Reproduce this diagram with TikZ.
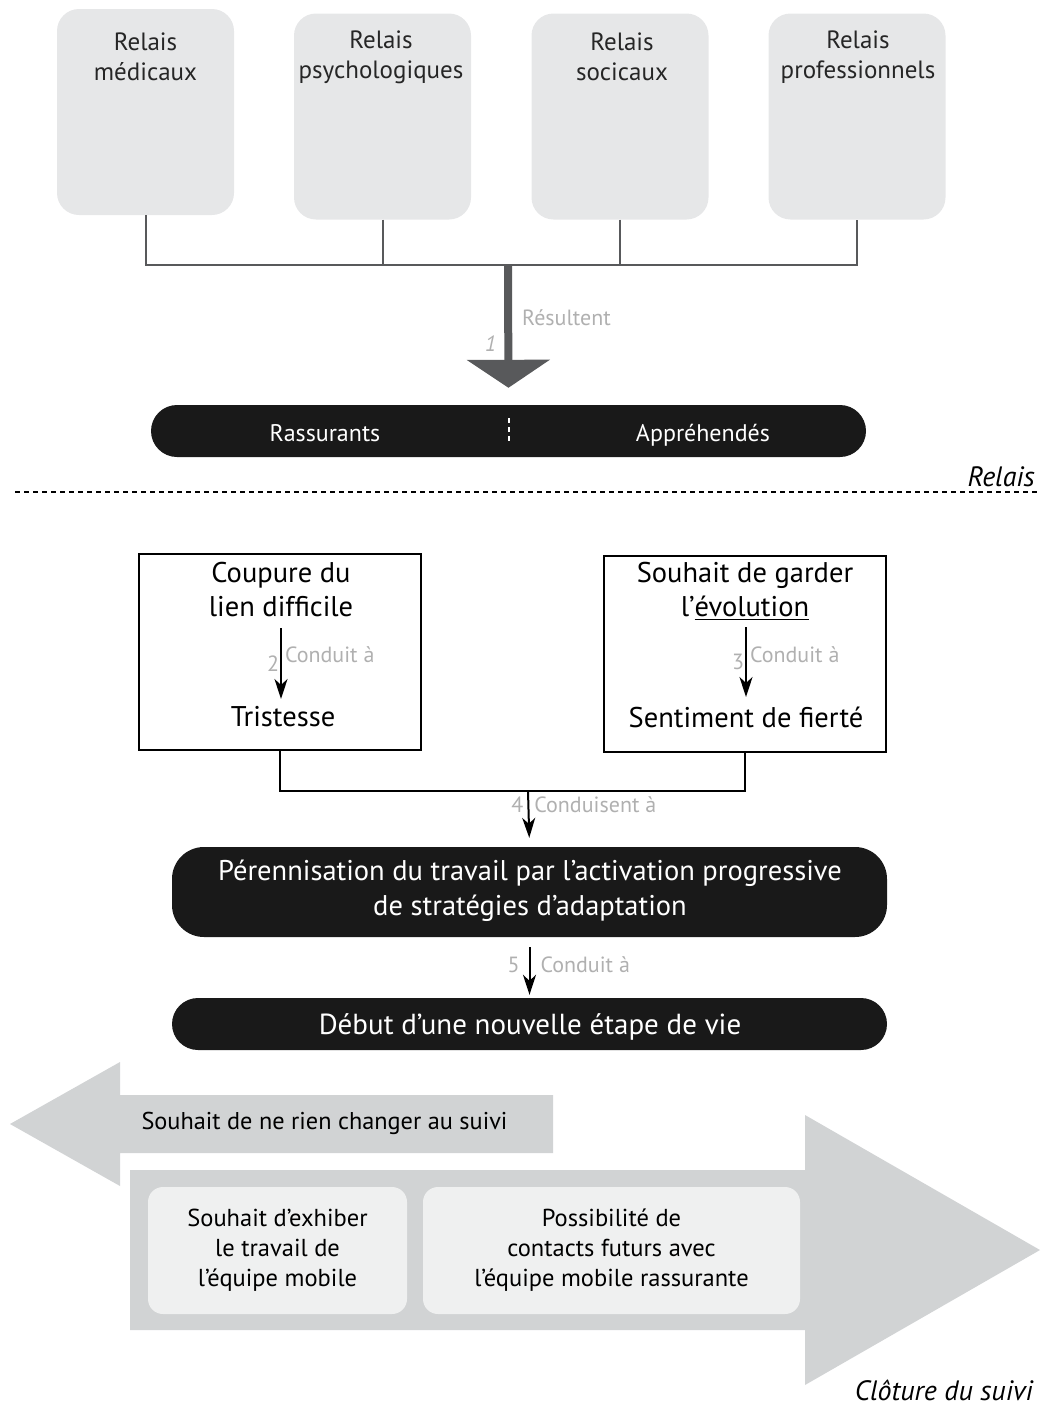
\documentclass[tikz,border=0pt]{standalone}
\usepackage{fontspec}
\setmainfont{PT Sans}
\usepackage{tikz}
\usetikzlibrary{arrows.meta, positioning}

\definecolor{relaygray}{HTML}{E6E7E8}
\definecolor{linkgray}{HTML}{58595B}
\definecolor{notegray}{HTML}{B0B0B0}
\definecolor{bandgray}{HTML}{D1D3D4}
\definecolor{cellgray}{HTML}{EFF0F0}

\newcommand{\fs}[2]{\fontsize{#1}{#2}\selectfont}

\begin{document}
\begin{tikzpicture}[
    x=1pt, y=-1pt,
    relay/.style = {rectangle, rounded corners=22pt, fill=relaygray,
                    minimum width=177pt, minimum height=206pt},
    relaytext/.style = {align=center, font=\fs{25}{30}, text=black!85},
    bar/.style = {rectangle, rounded corners=26pt, fill=black!90,
                  minimum width=715pt, minimum height=52pt},
    bartext/.style = {align=center, text=white},
    cause/.style = {rectangle, draw=black, line width=2pt,
                    minimum width=282pt, minimum height=196pt},
    causetext/.style = {align=center, font=\fs{28.5}{34}},
    note/.style = {text=notegray, font=\fs{22}{24}, inner sep=2pt},
    cell/.style = {rectangle, rounded corners=15pt, fill=cellgray,
                   minimum height=127pt, align=center, font=\fs{24.5}{30}},
    section/.style = {font=\fs{28}{30}\itshape, inner sep=0pt},
    link/.style = {draw=linkgray, line width=2pt},
    arrow/.style = {-{Stealth[length=20pt, width=13pt, inset=6pt]}, line width=2pt}
]
\useasboundingbox (0,0) rectangle (1041,1408);

% Relais
\node[relay] (med) at (145.5,112) {};
\node[relay] (psy) at (382.5,116.5) {};
\node[relay] (soc) at (620,116.5) {};
\node[relay] (pro) at (857,116.5) {};
\node[relaytext] at (145.5,57) {Relais\\médicaux};
\node[relaytext] at (381,57) {Relais\\psychologiques};
\node[relaytext] at (622,57) {Relais\\socicaux};
\node[relaytext] at (858,57) {Relais\\professionnels};

% Bar Rassurants / Appréhendés
\node[bar] (relbar) at (508.5,431) {};
\node[bartext, font=\fs{24}{26}, anchor=base] at (325,441) {Rassurants};
\node[bartext, font=\fs{24}{26}, anchor=base] at (703,441) {Appréhendés};
\draw[white, line width=2.5pt, dash pattern=on 5pt off 4pt] (509,418) -- (509,442);

% Links
\coordinate (join) at (508,265);
\draw[link] (med.south) |- (join) -| (pro.south);
\draw[link] (psy.south) -- (psy.south |- join);
\draw[link] (soc.south) -- (soc.south |- join);
\draw[linkgray, line width=8pt, -{Triangle[length=28pt, width=82pt]},
      shorten >=17pt] (join) -- (relbar.north)
      node[pos=0.38, right=8pt, note] {Résultent}
      node[pos=0.56, left=6pt, note, font=\fs{22}{24}\itshape] {1};

% Separator
\draw[line width=1.5pt, dash pattern=on 5pt off 4pt] (15,492) -- (1037,492);
\node[section, anchor=south east] at (1035,487) {Relais};

% Two causes
\node[cause] (coup) at (280,652) {};
\node[cause] (souh) at (745,653.5) {};
\node[causetext] (coupA) at (281,590) {Coupure du\\lien difficile};
\node[causetext] (trist) at (283,717) {Tristesse};
\node[causetext] (souhA) at (745,591) {Souhait de garder\\l’\underline{évolution}};
\node[causetext] (fier) at (746,717) {Sentiment de fierté};
\draw[arrow] (281,628) -- (281,699)
    node[pos=0.38, right=1pt, note] {Conduit à}
    node[pos=0.5, left=-1pt, note] {2};
\draw[arrow] (746,627) -- (746,697)
    node[pos=0.4, right=1pt, note] {Conduit à}
    node[pos=0.5, left=-1pt, note] {3};

% Merge
\coordinate (merge) at (528,791);
\draw[line width=2pt] (coup.south) |- (merge) -| (souh.south);
\node[bar, rounded corners=32pt, minimum height=90pt] (perenne) at (529.5,892) {};
\node[bartext, font=\fs{28.5}{35}] at (530,891) {Pérennisation du travail par l’activation progressive\\de stratégies d’adaptation};
\draw[arrow, shorten >=9pt] (merge) -- (perenne.north)
    node[pos=0.25, right=3pt, note] {Conduisent à}
    node[pos=0.25, left=2pt, note] {4};

\node[bar] (debut) at (529.5,1024) {};
\node[bartext, font=\fs{29}{30}, anchor=base] at (530,1034) {Début d’une nouvelle étape de vie};
\draw[arrow, shorten <=10pt, shorten >=3pt] (perenne.south) -- (debut.north)
    node[pos=0.45, right=8pt, note] {Conduit à}
    node[pos=0.45, left=7pt, note] {5};

% Arrows of the follow-up
\fill[bandgray] (553,1095) -- (120,1095) -- (120,1062) -- (10,1124)
    -- (120,1186) -- (120,1153) -- (553,1153) -- cycle;
\node[font=\fs{24.3}{26}] at (324.5,1123) {Souhait de ne rien changer au suivi};
\fill[bandgray] (130,1170) -- (805,1170) -- (805,1115) -- (1040,1250)
    -- (805,1385) -- (805,1330) -- (130,1330) -- cycle;
\node[cell, minimum width=259pt] (exhib) at (277.5,1250.5) {Souhait d’exhiber\\le travail de\\l’équipe mobile};
\node[cell, minimum width=377pt] (futur) at (611.5,1250.5) {Possibilité de\\contacts futurs avec\\l’équipe mobile rassurante};
\node[section, anchor=south east] at (1033,1401) {Clôture du suivi};

\end{tikzpicture}
\end{document}
